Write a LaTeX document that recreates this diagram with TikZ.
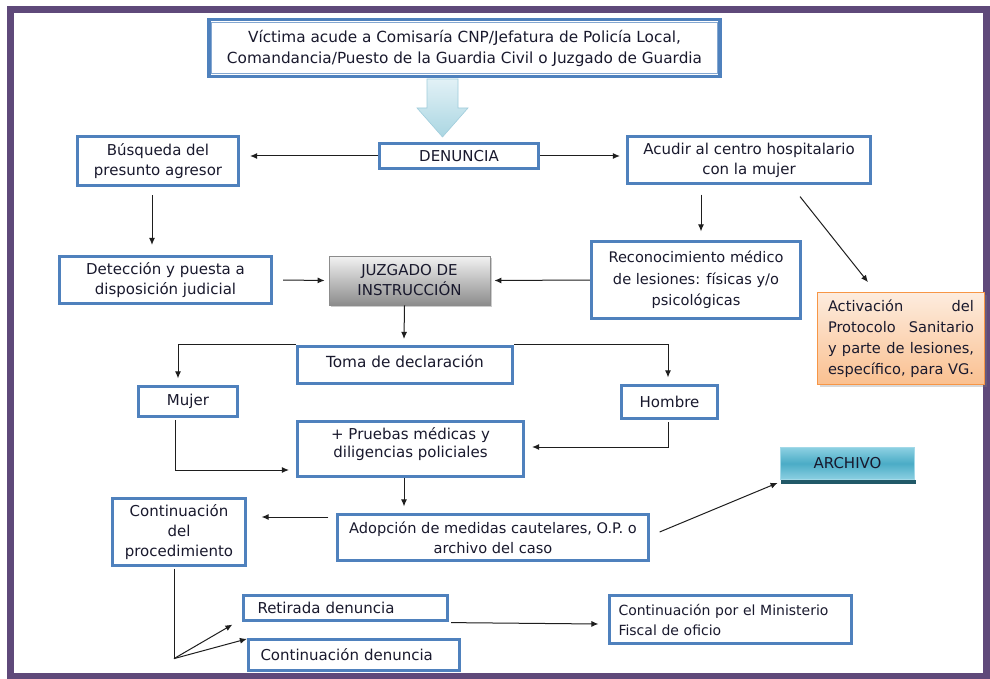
\documentclass[tikz,border=0pt]{standalone}
\usepackage{fontspec}
\setmainfont{DejaVu Sans}
\usetikzlibrary{arrows.meta,shadows,calc,backgrounds}

\definecolor{framepurple}{RGB}{95,73,122}
\definecolor{boxblue}{RGB}{79,129,189}
\definecolor{linegray}{RGB}{30,30,30}
\definecolor{arrowtop}{RGB}{226,241,246}
\definecolor{arrowbot}{RGB}{170,214,226}
\definecolor{arrowedge}{RGB}{160,205,220}
\definecolor{peachtop}{RGB}{253,236,222}
\definecolor{peachbot}{RGB}{250,192,144}
\definecolor{peachedge}{RGB}{247,150,70}
\definecolor{tealtop}{RGB}{140,208,226}
\definecolor{tealmid}{RGB}{75,172,198}
\definecolor{tealdark}{RGB}{33,89,104}
\definecolor{inktext}{RGB}{25,25,45}

\tikzset{
  box/.style={draw=boxblue, line width=3.2pt, fill=white, align=center,
    inner sep=0pt, font=\fontsize{15}{20}\selectfont, text=inktext},
  bigtext/.style={font=\fontsize{15.3}{21}\selectfont},
  juzbox/.style={draw=black!45, line width=0.8pt, top color=black!5,
    bottom color=black!45, align=center, inner sep=0pt,
    font=\fontsize{15}{20}\selectfont, text=inktext,
    drop shadow={shadow xshift=2pt, shadow yshift=-2pt, opacity=0.4}},
  actbox/.style={draw=peachedge, line width=0.7pt, top color=peachtop,
    bottom color=peachbot, inner sep=0pt,
    font=\fontsize{14.6}{21}\selectfont, text=inktext,
    drop shadow={shadow xshift=2pt, shadow yshift=-2pt, opacity=0.3}},
  archbox/.style={draw=tealtop!80!white, line width=0.8pt, top color=tealtop,
    bottom color=tealtop, middle color=tealmid, align=center, inner sep=0pt,
    font=\fontsize{15}{20}\selectfont, text=inktext},
  conn/.style={draw=linegray, line width=1pt,
    -{Latex[length=7pt,width=6pt]}},
  plainline/.style={draw=linegray, line width=1pt},
}

\begin{document}
\begin{tikzpicture}[x=1pt,y=-1pt]
\useasboundingbox (0,0) rectangle (990,679);
\begin{scope}[on background layer]
  \fill[white] (0,0) rectangle (990,679);
\end{scope}
\draw[framepurple, line width=7pt] (10.5,10) rectangle (986.5,676.5);

% entry point and big down arrow
\node[box, bigtext, minimum width=511pt, minimum height=57pt] (vic) at (464.5,48)
  {Víctima acude a Comisaría CNP/Jefatura de Policía Local,\\
   Comandancia/Puesto de la Guardia Civil o Juzgado de Guardia};
\draw[boxblue!70, line width=0.9pt]
  ($(vic.north west)+(4.5,4.5)$) rectangle ($(vic.south east)+(-4.5,-4.5)$);
\shade[top color=arrowtop, bottom color=arrowbot, draw=arrowedge, line width=0.6pt]
  (427,79) -- (458,79) -- (458,108) -- (468,108) -- (442.5,137)
  -- (417,108) -- (427,108) -- cycle;

% first row
\node[box, minimum width=159pt, minimum height=25pt] (den) at (459,156) {DENUNCIA};
\node[box, minimum width=161pt, minimum height=49pt] (bus) at (158,161)
  {Búsqueda del\\presunto agresor};
\node[box, minimum width=243pt, minimum height=47pt] (acu) at (749,160)
  {Acudir al centro hospitalario\\con la mujer};

% second row
\node[box, minimum width=212pt, minimum height=47pt] (det) at (165.5,280)
  {Detección y puesta a\\disposición judicial};
\node[juzbox, minimum width=161pt, minimum height=49pt] (juz) at (409.5,280.5)
  {JUZGADO DE\\INSTRUCCIÓN};
\node[box, minimum width=209pt, minimum height=77pt,
  font=\fontsize{14.6}{21.5}\selectfont] (rec) at (696,280)
  {Reconocimiento médico\\de lesiones: físicas y/o\\psicológicas};
\node[actbox, minimum width=167pt, minimum height=92pt] (act) at (901,338.5)
  {\parbox{146pt}{%
    \makebox[146pt][s]{Activación\hfill del}\\
    \makebox[146pt][s]{Protocolo Sanitario}\\
    \makebox[146pt][s]{y parte de lesiones,}\\
    \makebox[146pt][s]{específico, para VG.}}};

% declaration
\node[box, bigtext, minimum width=215pt, minimum height=37pt] (tom) at (405,365)
  {\raisebox{8pt}{Toma de declaración}};
\node[box, minimum width=99pt, minimum height=30pt] (muj) at (188,401.5) {Mujer};
\node[box, minimum width=96pt, minimum height=33pt] (hom) at (669.5,402) {Hombre};
\node[box, minimum width=226pt, minimum height=55pt] (pru) at (410.5,449)
  {\raisebox{13pt}{\shortstack{+ Pruebas médicas y\\diligencias policiales}}};
\node[archbox, minimum width=134pt, minimum height=32pt] (arc) at (847.5,463.5) {ARCHIVO};
\fill[tealdark] ($(arc.south west)+(1,0.5)$) rectangle ($(arc.south east)+(1,4)$);

% measures and outcomes
\node[box, minimum width=133pt, minimum height=67pt] (cpr) at (179,532)
  {Continuación\\del\\procedimiento};
\node[box, font=\fontsize{14.6}{20}\selectfont, minimum width=311pt, minimum height=46pt]
  (ado) at (493,537.5) {Adopción de medidas cautelares, O.P. o\\archivo del caso};
\node[box, minimum width=204pt, minimum height=25pt, text width=176pt, align=left]
  (ret) at (345.5,608) {Retirada denuncia};
\node[box, minimum width=211pt, minimum height=31pt, text width=187pt, align=left]
  (cde) at (354,655) {Continuación denuncia};
\node[box, font=\fontsize{14}{20}\selectfont, minimum width=242pt, minimum height=48pt,
  text width=224pt, align=left]
  (mf) at (730.5,619.5) {\mbox{Continuación por el Ministerio}\\Fiscal de oficio};

% connectors
\draw[conn] (den.west) -- ($(bus.east |- den.west)+(10,0)$);
\draw[conn] (den.east) -- ($(acu.west |- den.east)+(-6,0)$);
\draw[conn] ($(bus.south)+(-6,8)$) -- ($(det.north)+(-13.5,-10)$);
\draw[conn] ($(det.east)+(10,0)$) -- ($(juz.west)+(-4,0)$);
\draw[conn] (rec.west) -- ($(juz.east)+(4,0)$);
\draw[conn] ($(acu.south)+(-48,9.5)$) -- ($(rec.north)+(5,-8.5)$);
\draw[conn] ($(acu.south)+(51,11.5)$) -- ($(act.north)+(-33,-10)$);
\draw[conn] ($(juz.south)+(-5,0)$) -- ($(tom.north)+(-1,-6)$);
\begin{scope}[on background layer]
  \draw[conn] (tom.north west) -| ($(muj.north)+(-10,-6.5)$);
  \draw[conn] (tom.north east) -| ($(hom.north)+(-1.5,-6.5)$);
\end{scope}
\draw[conn] ($(muj.south)+(-13,2)$) |- ($(pru.west)+(-7,21)$);
\draw[conn] ($(hom.south)+(-1.5,2)$) |- ($(pru.east)+(7,-2)$);
\draw[conn] ($(pru.south)+(-6.5,0)$) -- ($(ado.north)+(-89,-6.5)$);
\draw[conn] ($(ado.west)+(-7.5,-20.5)$) -- ($(cpr.east)+(14.5,-15)$);
\draw[conn] ($(ado.east)+(9.5,-5.5)$) -- ($(arc.south west)+(-2.5,3)$);
\coordinate (fork) at ($(cpr.south)+(-5,91.5)$);
\draw[plainline] ($(cpr.south)+(-5,1.5)$) -- (fork);
\draw[conn] (fork) -- ($(ret.south west)+(-9.5,2.5)$);
\draw[conn] (fork) -- ($(cde.north west)+(0,1)$);
\draw[conn] ($(ret.south east)+(2,0.5)$) -- ($(mf.west)+(-9.5,4.5)$);
\end{tikzpicture}
\end{document}
